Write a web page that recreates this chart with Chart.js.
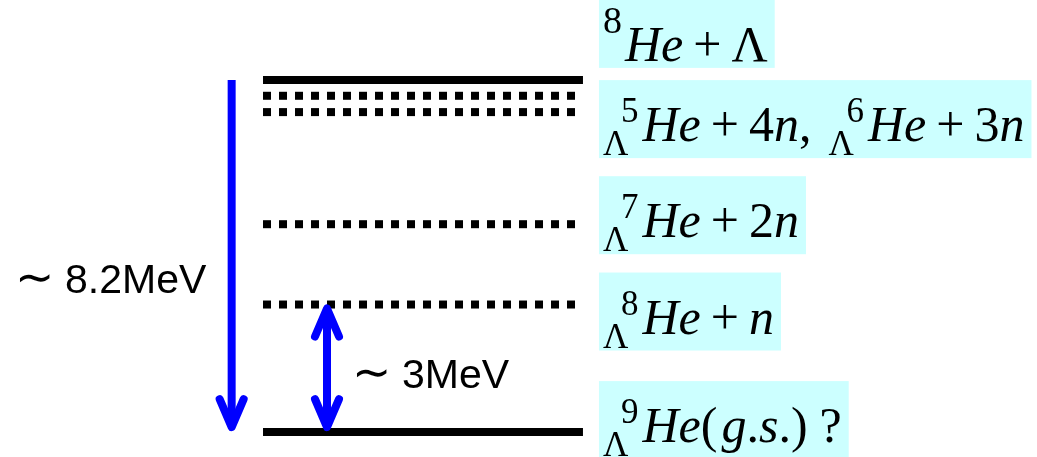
<!DOCTYPE html>
<html>
<head>
<meta charset="utf-8">
<script src="https://cdn.jsdelivr.net/npm/chart.js@4"></script>
<style>
  html, body { margin: 0; padding: 0; background: #fff; }
  #wrap { width: 1037px; height: 457px; }
</style>
</head>
<body>
<div id="wrap"><canvas id="levels"></canvas></div>
<script>
// level energies in MeV above the 9ΛHe ground state
var levelNames = ['8He+Λ', '5ΛHe+4n', '6ΛHe+3n', '7ΛHe+2n', '8ΛHe+n', '9ΛHe(g.s.)'];
var levelEnergies = [8.2, 7.83, 7.45, 4.84, 2.97, 0];

// energy gaps shown with blue arrows: [upper level, lower level]
var gapLevels = [[0, 5], [4, 5]];
var gapLabels = ['8.2MeV', '3MeV'];

// boxed labels: which level each one sits next to, and its formula pieces
var labelLevel = [0, 2, 3, 4, 5];
var labelParts = [
  [['sup', '8'], ['i', 'He'], ['op', '+'], ['r', 'Λ']],
  [['pre', '5'], ['i', 'He'], ['op', '+'], ['r', '4'], ['i', 'n'], ['r', ','], ['sp', 17],
   ['pre', '6'], ['i', 'He'], ['op', '+'], ['r', '3'], ['i', 'n']],
  [['pre', '7'], ['i', 'He'], ['op', '+'], ['r', '2'], ['i', 'n']],
  [['pre', '8'], ['i', 'He'], ['op', '+'], ['i', 'n']],
  [['pre', '9'], ['i', 'He'], ['r', '('], ['sp', 4], ['i', 'g'], ['r', '.'], ['i', 's'], ['r', '.'], ['r', ')'], ['sp', 12], ['r', '?']]
];

var SERIF = "'Liberation Serif', 'Times New Roman', serif";
var SANS = "'Liberation Sans', Arial, sans-serif";
var BLUE = '#0000ff';

// pixel tweaks for the label boxes (baseline offset from the level line)
var labelDy = [-19, 29, 13, 29, 10];
// arrows: x in chart units, text offsets in px
var arrowX = [-0.098, 0.2];
var gapTextPos = [{ x: 15, y: 293 }, { x: 352, y: 388 }];

function drawFormula(ctx, parts, x0, base, dry) {
  var x = x0;
  parts.forEach(function (p) {
    var kind = p[0], t = p[1];
    if (kind === 'pre') {
      ctx.font = '35px ' + SERIF;
      var lw = ctx.measureText('Λ').width;
      var dw = ctx.measureText(t).width;
      if (!dry) {
        ctx.fillText('Λ', x, base + 14);
        ctx.fillText(t, x + 18, base - 19);
      }
      x += Math.max(lw, 18 + dw) + 4;
    } else if (kind === 'sup') {
      ctx.font = '38px ' + SERIF;
      if (!dry) ctx.fillText(t, x, base - 28);
      x += ctx.measureText(t).width + 3;
    } else if (kind === 'op') {
      ctx.font = '50px ' + SERIF;
      x += 10;
      if (!dry) ctx.fillText(t, x, base);
      x += ctx.measureText(t).width + 10;
    } else if (kind === 'sp') {
      x += t;
    } else {
      ctx.font = (kind === 'i' ? 'italic ' : '') + '50px ' + SERIF;
      if (!dry) ctx.fillText(t, x, base);
      x += ctx.measureText(t).width;
    }
  });
  return x;
}

function arrowHead(ctx, x, y, dir) {
  // open chevron, dir = +1 points down, -1 points up
  ctx.beginPath();
  ctx.moveTo(x - 12, y - dir * 28);
  ctx.lineTo(x, y);
  ctx.lineTo(x + 12, y - dir * 28);
  ctx.stroke();
}

var decorations = {
  id: 'decorations',
  afterDatasetsDraw: function (chart) {
    var ctx = chart.ctx;
    var xs = chart.scales.x, ys = chart.scales.y;
    ctx.save();

    // gap arrows
    ctx.strokeStyle = BLUE;
    ctx.lineWidth = 8;
    gapLevels.forEach(function (g, i) {
      var x = xs.getPixelForValue(arrowX[i]);
      var yTop = ys.getPixelForValue(levelEnergies[g[0]]);
      var yBot = ys.getPixelForValue(levelEnergies[g[1]]);
      ctx.lineCap = 'butt';
      ctx.lineJoin = 'round';
      var bothEnds = i > 0;
      var top = bothEnds ? yTop + 4 : yTop;
      ctx.beginPath();
      ctx.moveTo(x, top);
      ctx.lineTo(x, yBot - 5);
      ctx.stroke();
      ctx.lineCap = 'round';
      arrowHead(ctx, x, yBot - 5, 1);
      if (bothEnds) arrowHead(ctx, x, yTop + 4, -1);

      ctx.fillStyle = '#000';
      ctx.textBaseline = 'alphabetic';
      ctx.font = '47px ' + "'DejaVu Sans', sans-serif";
      ctx.fillText('∼', gapTextPos[i].x, gapTextPos[i].y);
      ctx.font = '41px ' + SANS;
      ctx.fillText(gapLabels[i], gapTextPos[i].x + 50, gapTextPos[i].y);
    });

    // cyan label boxes
    var left = xs.getPixelForValue(1.05);
    labelParts.forEach(function (parts, i) {
      var base = ys.getPixelForValue(levelEnergies[labelLevel[i]]) + labelDy[i];
      var end = drawFormula(ctx, parts, left + 4, base, true);
      var hasPre = parts.some(function (p) { return p[0] === 'pre'; });
      var top = base - 61;
      var bottom = base + (hasPre ? 17 : 7);
      ctx.fillStyle = '#ccffff';
      ctx.fillRect(left, top, end + 7 - left, bottom - top);
      ctx.fillStyle = '#000';
      drawFormula(ctx, parts, left + 4, base, false);
    });

    ctx.restore();
  }
};

var datasets = levelEnergies.map(function (e, i) {
  var solid = (i === 0 || i === levelEnergies.length - 1);
  return {
    label: levelNames[i],
    data: [{ x: 0, y: e }, { x: 1, y: e }],
    borderColor: '#000',
    borderWidth: 8,
    borderCapStyle: 'butt',
    borderDash: solid ? [] : [8, 8],
    pointRadius: 0,
    fill: false
  };
});

new Chart(document.getElementById('levels'), {
  type: 'line',
  data: { datasets: datasets },
  options: {
    responsive: true,
    maintainAspectRatio: false,
    animation: false,
    layout: { padding: 0 },
    plugins: { legend: { display: false }, tooltip: { enabled: false } },
    scales: {
      x: { type: 'linear', min: -0.822, max: 2.419, display: false },
      y: { type: 'linear', min: -0.58, max: 10.06, display: false }
    }
  },
  plugins: [decorations]
});
</script>
</body>
</html>
